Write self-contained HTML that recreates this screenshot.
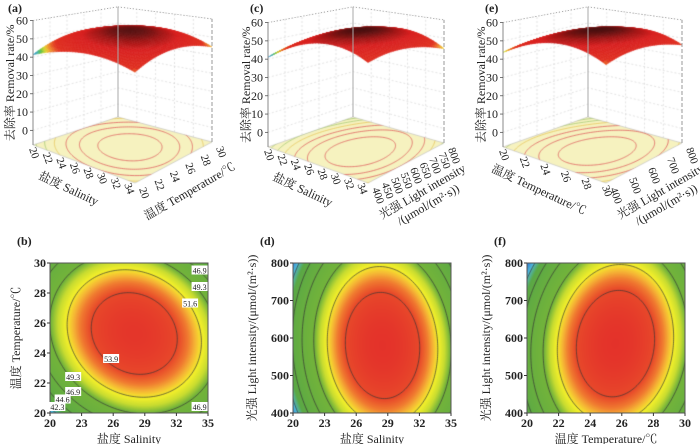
<!DOCTYPE html>
<html><head><meta charset="utf-8">
<style>
html,body{margin:0;padding:0;background:#fff;}
#wrap{position:relative;width:700px;height:444px;overflow:hidden;}
canvas,svg{position:absolute;left:0;top:0;}
text{font-family:"Liberation Serif","Noto Serif CJK SC",serif;fill:#222;}
</style></head>
<body>
<div id="wrap">
<canvas id="cv" width="700" height="444"></canvas>
<svg id="sv" width="700" height="444" xmlns="http://www.w3.org/2000/svg"></svg>
</div>
<script>
// ---- data ----
// model: [peak, x0, y0, xScale, yScale, A, B, C]
const modelSalTemp = [55.5, 28, 25.3, 7.5, 5, 5.5, 5.5, 1.5];
const modelSalLight = [55.8, 28.5, 580, 7.5, 200, 8.6, 3.8, 0.6];
const modelTempLight = [55.8, 25.6, 585, 5, 200, 7.8, 3.8, -0.9];
const levelsB = [42.3, 44.6, 46.9, 49.3, 51.6, 53.9];
const levelsD = [40, 42.3, 44.6, 46.9, 49.3, 51.6, 53.9];
const levelsF = [40, 42.3, 44.6, 46.9, 49.3, 51.6, 53.9];
const salTicks2D = [20, 23, 26, 29, 32, 35];
const tempTicks2D = [20, 22, 24, 26, 28, 30];
const lightTicks2D = [400, 500, 600, 700, 800];
const salTicks3D = [20, 22, 24, 26, 28, 30, 32, 34];
const tempTicks3D = [20, 22, 24, 26, 28, 30];
const lightTicksC = [400, 450, 500, 550, 600, 650, 700, 750, 800];
const lightTicksE = [400, 500, 600, 700, 800];
const zTicks = [0, 10, 20, 30, 40, 50, 60];
const labelsB = [[34.2,29.5,'46.9'],[34.2,28.4,'49.3'],[33.3,27.3,'51.6'],[25.8,23.6,'53.9'],[22.2,22.4,'49.3'],[22.2,21.4,'46.9'],[21.2,20.9,'44.6'],[20.7,20.4,'42.3'],[34.2,20.4,'46.9']];

const NS='http://www.w3.org/2000/svg';
const sv=document.getElementById('sv');
const ctx=document.getElementById('cv').getContext('2d');
function f(m,x,y){const dx=(x-m[1])/m[3],dy=(y-m[2])/m[4];return m[0]-m[5]*dx*dx-m[6]*dy*dy-m[7]*dx*dy;}
function hex(c){return [parseInt(c.substr(1,2),16),parseInt(c.substr(3,2),16),parseInt(c.substr(5,2),16)];}
const stops2D=[[38.5,'#1a1a80'],[40.5,'#2a6cc8'],[42,'#50b8d8'],[43.5,'#5aa845'],[49.5,'#74b43a'],[50.5,'#c8dc30'],[51.5,'#f5f02a'],[52.3,'#f5b535'],[53,'#f07a30'],[53.8,'#e84a2a'],[56,'#e3302a']];
const stops3D=[[41,'#3070d0'],[42.5,'#40b0c0'],[43.5,'#60c040'],[44.5,'#e8e030'],[45.5,'#f09030'],[47,'#e03020'],[52,'#d82020'],[54,'#a01515'],[56,'#401010']];
function cmap(v,st){if(v<=st[0][0])return hex(st[0][1]);for(let i=1;i<st.length;i++){if(v<=st[i][0]){const t=(v-st[i-1][0])/(st[i][0]-st[i-1][0]);const a=hex(st[i-1][1]),b=hex(st[i][1]);return [0,1,2].map(k=>Math.round(a[k]+(b[k]-a[k])*t));}}return hex(st[st.length-1][1]);}
function txt(x,y,s,size,anchor,rot,name,weight){const t=document.createElementNS(NS,'text');t.setAttribute('x',0);t.setAttribute('y',0);t.setAttribute('font-size',size);t.setAttribute('text-anchor',anchor);if(weight)t.setAttribute('font-weight',weight);t.setAttribute('transform','translate('+x+','+y+') rotate('+(rot||0)+')');t.textContent=s;


sv.appendChild(t);return t;}
function line(x1,y1,x2,y2,col,w,dash,name){const l=document.createElementNS(NS,'line');l.setAttribute('x1',x1);l.setAttribute('y1',y1);l.setAttribute('x2',x2);l.setAttribute('y2',y2);l.setAttribute('stroke',col);l.setAttribute('stroke-width',w);if(dash)l.setAttribute('stroke-dasharray',dash);


sv.appendChild(l);}
function ellipsePts(m,L){const pts=[];for(let i=0;i<=180;i++){const th=i/180*2*Math.PI,c=Math.cos(th),s=Math.sin(th);const q=m[5]*c*c+m[6]*s*s+m[7]*c*s;const r=Math.sqrt(Math.max(0,(m[0]-L)/q));pts.push([m[1]+m[3]*r*c,m[2]+m[4]*r*s]);}return pts;}

// ---- 2D panels ----
const panels2D=[
 {tag:'(b)',r:[50,263,208,413],xr:[20,35],yr:[20,30],m:modelSalTemp,xt:salTicks2D,yt:tempTicks2D,lv:levelsB,xl:'盐度 Salinity',yl:'温度 Temperature/℃',yx:20},
 {tag:'(d)',r:[293,263,451,413],xr:[20,35],yr:[400,800],m:modelSalLight,xt:salTicks2D,yt:lightTicks2D,lv:levelsD,xl:'盐度 Salinity',yl:'光强 Light intensity/(μmol/(m²·s))',yx:256},
 {tag:'(f)',r:[527,263,685,413],xr:[20,30],yr:[400,800],m:modelTempLight,xt:tempTicks2D,yt:lightTicks2D,lv:levelsF,xl:'温度 Temperature/℃',yl:'光强 Light intensity/(μmol/(m²·s))',yx:490}];
panels2D.forEach(p=>{
 const [x0,y0,x1,y1]=p.r,w=x1-x0,h=y1-y0;
 const sx=v=>x0+(v-p.xr[0])/(p.xr[1]-p.xr[0])*w, sy=v=>y1-(v-p.yr[0])/(p.yr[1]-p.yr[0])*h;
 const img=ctx.createImageData(w,h);
 for(let j=0;j<h;j++)for(let i=0;i<w;i++){const x=p.xr[0]+(i+.5)/w*(p.xr[1]-p.xr[0]),y=p.yr[1]-(j+.5)/h*(p.yr[1]-p.yr[0]);const c=cmap(f(p.m,x,y),stops2D);const k=(j*w+i)*4;img.data[k]=c[0];img.data[k+1]=c[1];img.data[k+2]=c[2];img.data[k+3]=255;}
 ctx.putImageData(img,x0,y0);
 ctx.save();ctx.beginPath();ctx.rect(x0,y0,w,h);ctx.clip();ctx.strokeStyle='#333';ctx.lineWidth=0.7;
 p.lv.forEach(L=>{const pts=ellipsePts(p.m,L);ctx.beginPath();pts.forEach((q,i)=>{const X=sx(q[0]),Y=sy(q[1]);i?ctx.lineTo(X,Y):ctx.moveTo(X,Y);});ctx.stroke();});
 ctx.restore();
 const fr=document.createElementNS(NS,'rect');fr.setAttribute('x',x0);fr.setAttribute('y',y0);fr.setAttribute('width',w);fr.setAttribute('height',h);fr.setAttribute('fill','none');fr.setAttribute('stroke','#555');fr.setAttribute('stroke-width','1');
 
 
 sv.appendChild(fr);
 p.xt.forEach(v=>{line(sx(v),y1,sx(v),y1+3,'#333',1,null,'x-tick');txt(sx(v),y1+14,String(v),12,'middle',0,'x-tick-label','bold');});
 p.yt.forEach(v=>{line(x0-3,sy(v),x0,sy(v),'#333',1,null,'y-tick');txt(x0-4,sy(v)+4,String(v),12,'end',0,'y-tick-label','bold');});
 txt((x0+x1)/2,y1+30,p.xl,12,'middle',0,'x-axis-title');
 txt(p.yx,(y0+y1)/2,p.yl,12,'middle',-90,'y-axis-title');
 txt(x0-33,y0-18,p.tag,12,'start',0,'panel-label','bold');
});
labelsB.forEach(l=>{const p=panels2D[0];const X=p.r[0]+(l[0]-20)/15*158,Y=p.r[3]-(l[1]-20)/10*150;
 const b=document.createElementNS(NS,'rect');b.setAttribute('x',X-8);b.setAttribute('y',Y-5);b.setAttribute('width',16);b.setAttribute('height',9);b.setAttribute('fill','#fff');
 
 
 sv.appendChild(b);txt(X,Y+3,l[2],8,'middle',0,'contour-label');});

// ---- 3D panels ----
const panels3D=[
 {tag:'(a)',tx:8,L:[33,145],F:[135,183],R:[212,142],B:[118,117],k:[1.83,2.05,1.81,1.62],m:modelSalTemp,ar:[20,35],br:[20,30],at:salTicks3D,bt:tempTicks3D,al:'盐度 Salinity',bl:['温度 Temperature/℃'],zx:14,aRot:25,bRot:-30},
 {tag:'(c)',tx:250,L:[268,147],F:[368,183],R:[444,143],B:[353,117],k:[1.83,2.2,1.81,1.62],m:modelSalLight,ar:[20,35],br:[400,800],at:salTicks3D,bt:lightTicksC,al:'盐度 Salinity',bl:['光强 Light intensity','/(μmol/(m²·s))'],zx:250,aRot:25,bRot:-30},
 {tag:'(e)',tx:485,L:[503,147],F:[606,183],R:[682,143],B:[588,117],k:[1.83,2.2,1.81,1.62],m:modelTempLight,ar:[20,30],br:[400,800],at:tempTicks2D,bt:lightTicksE,al:'温度 Temperature/℃',bl:['光强 Light intensity','/(μmol/(m²·s))'],zx:485,aRot:25,bRot:-30}];
const zF=-8;
panels3D.forEach(p=>{
 const bil=(a,b,P)=>P[0]*(1-a)*(1-b)+P[1]*a*(1-b)+P[2]*a*b+P[3]*(1-a)*b;
 const proj=(a,b,z)=>{const x=bil(a,b,[p.L[0],p.F[0],p.R[0],p.B[0]]),y=bil(a,b,[p.L[1],p.F[1],p.R[1],p.B[1]]),k=bil(a,b,p.k);return [x,y-(z-zF)*k];};
 const val=(a,b)=>f(p.m,p.ar[0]+a*(p.ar[1]-p.ar[0]),p.br[0]+b*(p.br[1]-p.br[0]));
 ctx.strokeStyle='#d0d0d0';ctx.lineWidth=0.6;ctx.setLineDash([2,2]);
 zTicks.forEach(z=>{let q1=proj(0,0,z),q2=proj(0,1,z),q3=proj(1,1,z);ctx.beginPath();ctx.moveTo(q1[0],q1[1]);ctx.lineTo(q2[0],q2[1]);ctx.lineTo(q3[0],q3[1]);ctx.stroke();});
 for(let i=1;i<5;i++){let t=i/5;let a1=proj(0,t,zF),a2=proj(0,t,60);ctx.beginPath();ctx.moveTo(a1[0],a1[1]);ctx.lineTo(a2[0],a2[1]);ctx.stroke();let b1=proj(t,1,zF),b2=proj(t,1,60);ctx.beginPath();ctx.moveTo(b1[0],b1[1]);ctx.lineTo(b2[0],b2[1]);ctx.stroke();}
 ctx.setLineDash([]);
 const fl=[proj(0,0,zF),proj(1,0,zF),proj(1,1,zF),proj(0,1,zF)];
 ctx.save();ctx.beginPath();fl.forEach((q,i)=>i?ctx.lineTo(q[0],q[1]):ctx.moveTo(q[0],q[1]));ctx.closePath();ctx.fillStyle='#f6f2bf';ctx.fill();ctx.strokeStyle='#bbb';ctx.lineWidth=0.6;ctx.stroke();ctx.clip();
 [40,42.3,44.6,46.9,49.3,51.6,53.9].forEach(L=>{const pts=ellipsePts(p.m,L);ctx.strokeStyle=L>=48?'#e06060':(L>=45?'#e8c860':'#a8cc78');ctx.lineWidth=0.8;ctx.beginPath();pts.forEach((q,i)=>{const a=(q[0]-p.ar[0])/(p.ar[1]-p.ar[0]),b=(q[1]-p.br[0])/(p.br[1]-p.br[0]);const s=proj(a,b,zF);i?ctx.lineTo(s[0],s[1]):ctx.moveTo(s[0],s[1]);});ctx.stroke();});
 ctx.restore();
 const N=36,cells=[];for(let i=0;i<N;i++)for(let j=0;j<N;j++)cells.push([i,j]);
 cells.sort((u,v)=>(u[0]-u[1])-(v[0]-v[1]));
 cells.forEach(([i,j])=>{const a0=i/N,a1=(i+1)/N,b0=j/N,b1=(j+1)/N;const q=[proj(a0,b0,val(a0,b0)),proj(a1,b0,val(a1,b0)),proj(a1,b1,val(a1,b1)),proj(a0,b1,val(a0,b1))];const c=cmap(val((a0+a1)/2,(b0+b1)/2),stops3D);const col='rgb('+c.join(',')+')';ctx.fillStyle=col;ctx.strokeStyle=col;ctx.lineWidth=0.6;ctx.beginPath();q.forEach((s,k)=>k?ctx.lineTo(s[0],s[1]):ctx.moveTo(s[0],s[1]));ctx.closePath();ctx.fill();ctx.stroke();});
 let l0=proj(0,0,zF),l1=proj(0,0,60),b0=proj(0,1,zF),b1=proj(0,1,60),r0=proj(1,1,zF),r1=proj(1,1,60);
 line(l0[0],l0[1],l1[0],l1[1],'#888',1,null,'z-axis-line');
 line(b0[0],b0[1],b1[0],b1[1],'#aaa',1,null,'back-axis-line');
 line(r0[0],r0[1],r1[0],r1[1],'#999',1,'4,2','right-axis-line');
 line(l1[0],l1[1],b1[0],b1[1],'#999',0.8,'1,2','box-top-edge');
 line(b1[0],b1[1],r1[0],r1[1],'#999',0.8,'1,2','box-top-edge');
 zTicks.forEach(z=>{const q=proj(0,0,z);line(q[0]-3,q[1],q[0],q[1],'#555',0.8,null,'z-tick');txt(q[0]-5,q[1]+4,String(z),12,'end',0,'z-tick-label');});
 p.at.forEach(v=>{const a=(v-p.ar[0])/(p.ar[1]-p.ar[0]);const q=proj(a,0,zF);txt(q[0]-4,q[1]+4,String(v),11,'start',70,'a-tick-label');});
 p.bt.forEach(v=>{const b=(v-p.br[0])/(p.br[1]-p.br[0]);const q=proj(1,b,zF);txt(q[0]+4,q[1]+6,String(v),11,'start',70,'b-tick-label');});
 const ma=proj(0.45,0,zF);txt(ma[0]-12,ma[1]+30,p.al,12,'middle',p.aRot,'a-axis-title');
 const mb=proj(1,0.45,zF);p.bl.forEach((s,i)=>txt(mb[0]+22+i*6,mb[1]+30+i*13,s,12,'middle',p.bRot,'b-axis-title'));
 txt(p.zx,(l0[1]+l1[1])/2,'去除率 Removal rate/%',12,'middle',-90,'z-axis-title');
 txt(p.tx,12,p.tag,12,'start',0,'panel-label','bold');
});
</script>
</body></html>
